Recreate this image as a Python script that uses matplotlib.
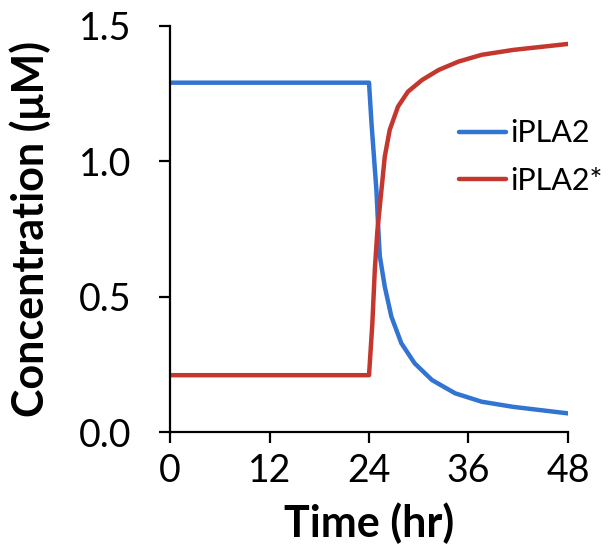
import matplotlib
matplotlib.use('Agg')
import matplotlib.pyplot as plt

# values
t_ipla2 = [0, 24.0, 24.3, 24.9, 25.1, 25.3, 25.9, 26.7, 27.9, 29.5, 31.6, 34.4, 37.6, 41.4, 48.0]
ipla2 = [1.29, 1.29, 1.14, 0.89, 0.76, 0.65, 0.537, 0.426, 0.328, 0.254, 0.192, 0.143, 0.112, 0.093, 0.069]

t_ipla2s = [0, 24.0, 24.4, 24.7, 25.0, 25.5, 25.9, 26.5, 27.5, 28.7, 30.4, 32.4, 34.8, 37.6, 41.4, 48.0]
ipla2s = [0.21, 0.21, 0.40, 0.60, 0.74, 0.894, 1.017, 1.116, 1.202, 1.257, 1.30, 1.337, 1.368, 1.393, 1.411, 1.433]

x_ticks = [0, 12, 24, 36, 48]
y_ticks = [0.0, 0.5, 1.0, 1.5]

plt.rcParams['font.family'] = ['Lato', 'DejaVu Sans']

fig = plt.figure(figsize=(6.14, 5.49), dpi=100)
ax = fig.add_axes([0.277, 0.213, 0.648, 0.740])

ax.plot(t_ipla2, ipla2, color='#3274D2', lw=3.2, label='iPLA2',
        solid_capstyle='round', solid_joinstyle='round')
ax.plot(t_ipla2s, ipla2s, color='#C4372F', lw=3.2, label='iPLA2*',
        solid_capstyle='round', solid_joinstyle='round')

ax.set_xlim(0, 48)
ax.set_ylim(0, 1.5)
ax.set_xticks(x_ticks)
ax.set_yticks(y_ticks)
ax.set_yticklabels(['%.1f' % v for v in y_ticks])

for spine in ['right', 'top']:
    ax.spines[spine].set_visible(False)
for spine in ['left', 'bottom']:
    ax.spines[spine].set_color('black')
    ax.spines[spine].set_linewidth(1.6)
ax.tick_params(axis='both', direction='out', length=8, width=1.6, labelsize=27)
ax.tick_params(axis='x', pad=7)
ax.tick_params(axis='y', pad=20)

ax.set_xlabel('Time (hr)', fontsize=31, fontweight='bold', labelpad=10)
ax.set_ylabel('Concentration (μM)', fontsize=31, fontweight='bold', labelpad=20)

ax.legend(loc='upper left', bbox_to_anchor=(0.725, 0.77), frameon=False, fontsize=22,
          handlelength=1.55, handletextpad=0.15, labelspacing=0.65,
          borderaxespad=0, borderpad=0)

fig.savefig('out.png', dpi=100)
